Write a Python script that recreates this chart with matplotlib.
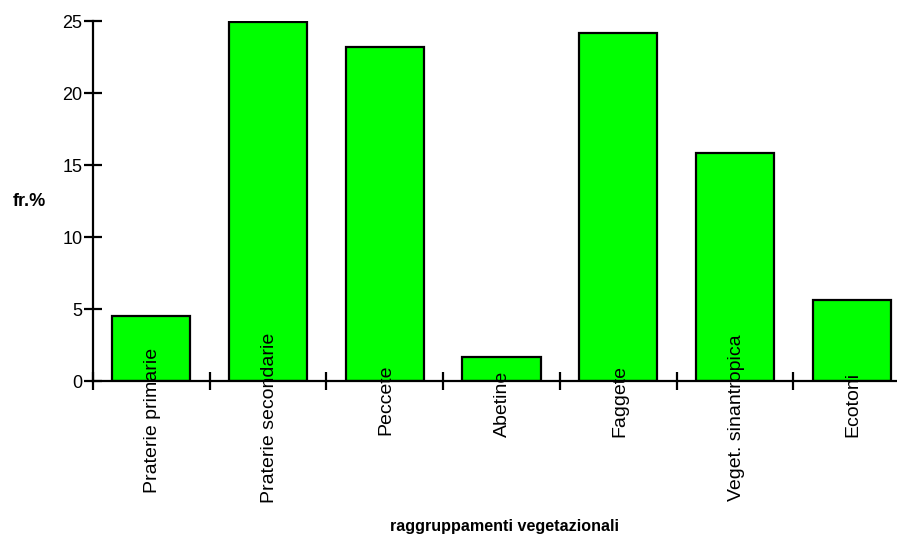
import matplotlib
matplotlib.use("Agg")
from matplotlib import pyplot as plt
from matplotlib.transforms import blended_transform_factory

# dati: frequenza percentuale dei raggruppamenti vegetazionali
categorie = ["Praterie primarie", "Praterie secondarie", "Peccete", "Abetine",
             "Faggete", "Veget. sinantropica", "Ecotoni"]
freq = [4.5, 24.9, 23.2, 1.7, 24.2, 15.8, 5.6]
y_ticks = [0, 5, 10, 15, 20, 25]

# centro verticale (pixel dall'alto) delle etichette ruotate
label_centre_px = [420, 418, 400, 404, 401, 418, 404]

W, H = 897, 535
fig = plt.figure(figsize=(W / 100, H / 100), dpi=100)
ax = fig.add_axes([93 / W, (H - 381) / H, (910 - 93) / W, 360 / H])

x = list(range(len(categorie)))
ax.bar(x, freq, width=0.67, color="#00ff00", edgecolor="black", linewidth=1.6, zorder=2)

ax.set_xlim(-0.5, len(categorie) - 0.5)
ax.set_ylim(0, 25)
for s in ["top", "right"]:
    ax.spines[s].set_visible(False)
for s in ["left", "bottom"]:
    ax.spines[s].set_linewidth(1.6)
    ax.spines[s].set_zorder(3)

ax.set_xticks([i - 0.5 for i in range(len(categorie) + 1)])
ax.set_xticklabels([])
ax.set_yticks(y_ticks)
ax.set_yticklabels([str(v) for v in y_ticks], family="Liberation Sans", fontsize=13)
ax.tick_params(axis="both", direction="inout", length=13, width=1.6, color="black")
ax.tick_params(axis="y", pad=1)

tr = blended_transform_factory(ax.transData, fig.transFigure)
for i, lab in enumerate(categorie):
    ax.text(i + 0.01, 1 - label_centre_px[i] / H, lab, rotation=90, ha="center", va="center",
            fontsize=14, family="Liberation Sans", transform=tr, zorder=4)

fig.text(29 / W, 1 - 201 / H, "fr.%", ha="center", va="center", fontsize=13,
         fontweight="bold", family="Liberation Sans")
fig.text(504 / W, 1 - 526 / H, "raggruppamenti vegetazionali", ha="center", va="center",
         fontsize=11.6, fontweight="bold", family="Liberation Sans")

fig.savefig("out.png", dpi=100)
